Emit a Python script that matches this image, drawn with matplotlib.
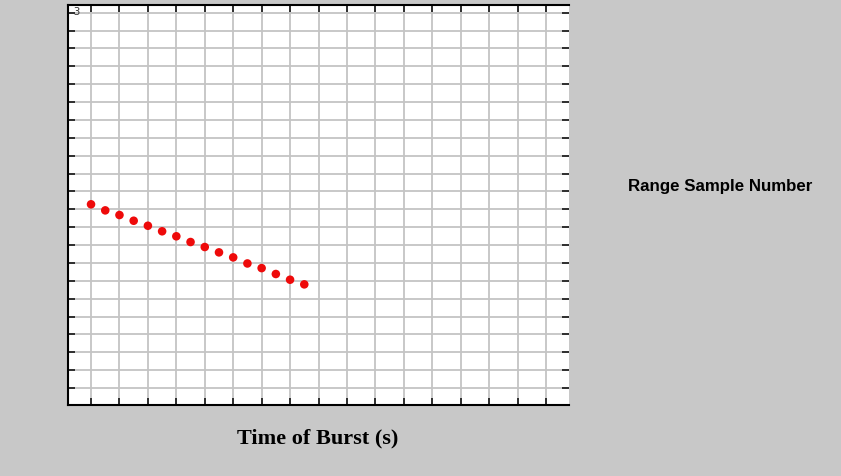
import matplotlib.pyplot as plt

# burst time (grid units) and range sample position (grid rows from top)
burst_time = [0.0, 0.5, 1.0, 1.5, 2.0, 2.5, 3.0, 3.5, 4.0, 4.5, 5.0, 5.5, 6.0, 6.5, 7.0, 7.5]
range_sample = [10.72, 11.06, 11.32, 11.64, 11.92, 12.23, 12.51, 12.83,
                13.11, 13.41, 13.69, 14.03, 14.29, 14.62, 14.94, 15.20]

x_ticks = list(range(17))
y_ticks = list(range(22))

fig = plt.figure(figsize=(8.41, 4.76), dpi=100)
fig.patch.set_facecolor('#c8c8c8')
ax = fig.add_axes([68/841, 71/476, 501/841, 400.5/476])
ax.set_facecolor('white')

ax.set_xlim(-0.81, 16.81)
ax.set_ylim(21.95, -0.46)
ax.set_xticks(x_ticks)
ax.set_yticks(y_ticks)
ax.grid(True, color='#c4c4c4', linewidth=1.3)
ax.set_axisbelow(True)

ax.scatter(burst_time, range_sample, s=38, color='#ee0a0a', edgecolors='none', zorder=3)

ax.tick_params(direction='in', top=True, right=True, length=5, width=1.3,
               color='#222222', labelleft=False, labelbottom=False)
ax.tick_params(axis='y', which='both', right=True)
for side in ['left', 'bottom', 'top']:
    ax.spines[side].set_color('black')
    ax.spines[side].set_linewidth(1.5)
ax.spines['right'].set_visible(False)

ax.text(0.004, 0.995, '-3', transform=ax.transAxes, fontsize=7.5,
        color='#333333', ha='left', va='top')

fig.text(720/841, 1 - 186/476, 'Range Sample Number', family='Liberation Sans',
         fontweight='bold', fontsize=12.2, ha='center', va='center')
fig.text(318/841, 1 - 438/476, 'Time of Burst (s)', family='Liberation Serif',
         fontweight='bold', fontsize=16, ha='center', va='center')

fig.savefig('out.png', dpi=100, facecolor=fig.get_facecolor())
